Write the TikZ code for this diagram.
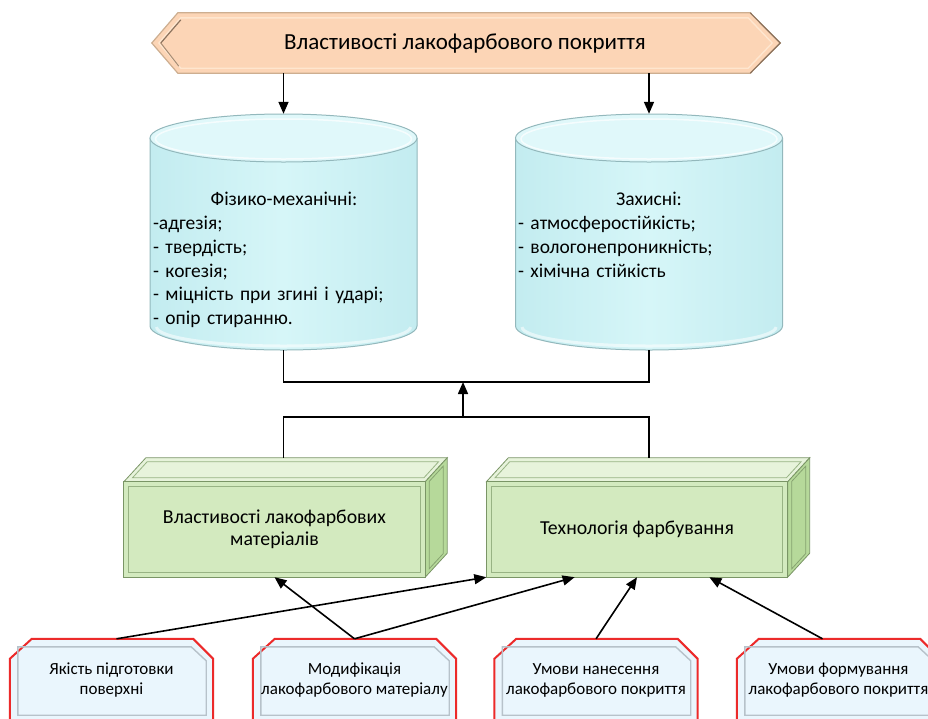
\documentclass[tikz,border=0pt]{standalone}
\usepackage{fontspec}
\setmainfont{Carlito}
\usetikzlibrary{arrows.meta,calc,backgrounds}

\definecolor{bannerFill}{HTML}{FCD5B6}
\definecolor{bannerEdge}{HTML}{CDAE90}
\definecolor{bannerDark}{HTML}{8C735E}
\definecolor{bannerLight}{HTML}{FEE6CF}
\definecolor{cylBody}{HTML}{D6F6F8}
\definecolor{cylShade}{HTML}{C3ECF0}
\definecolor{cylTop}{HTML}{E0F8FA}
\definecolor{cylEdge}{HTML}{93B8BC}
\definecolor{boxFront}{HTML}{D3EABF}
\definecolor{boxTop}{HTML}{E7F3DB}
\definecolor{boxSide}{HTML}{B6D99A}
\definecolor{boxEdge}{HTML}{7A9566}
\definecolor{boxBevel}{HTML}{98B384}
\definecolor{factorFill}{HTML}{EAF6FD}
\definecolor{factorEdge}{HTML}{EC2A2A}
\definecolor{factorBevel}{HTML}{B7C2CA}

\tikzset{
  link/.style={draw=black, line width=1.6pt},
  arrowlink/.style={link, -{Triangle[length=12pt,width=10pt]}},
  drum/.style={minimum width=267pt, minimum height=236pt, inner sep=0pt},
  drumtext/.style={anchor=north, inner sep=0pt, text width=262pt, align=left,
    font=\fontsize{19.5}{23.8}\selectfont},
  boxfront/.style={minimum width=301pt, minimum height=95pt, inner sep=0pt,
    align=center, font=\fontsize{19.8}{22.5}\selectfont},
  factor/.style={minimum width=203pt, minimum height=82pt, inner sep=0pt,
    align=center, font=\fontsize{17}{20}\selectfont},
  banner/.style={minimum width=630pt, minimum height=60pt, inner sep=0pt,
    font=\fontsize{23}{27}\selectfont},
}

\begin{document}
\begin{tikzpicture}[x=1pt,y=-1pt]
\useasboundingbox (0,0) rectangle (928,718);
\clip (0,0) rectangle (928,718);

% ---- nodes ----
\node[banner] (title) at (465,43) {Властивості лакофарбового покриття};

\node[drum] (phys) at (283.5,232) {};
\node[drum] (prot) at (649,232) {};
\node[drumtext] (physlist) at (284,192)
  {\makebox[262pt]{Фізико-механічні:}\\-адгезія;\\- твердість;\\- когезія;\\- міцність при згині і ударі;\\- опір стиранню.};
\node[drumtext] (protlist) at (649,192)
  {\makebox[262pt]{Захисні:}\\- атмосферостійкість;\\- вологонепроникність;\\- хімічна стійкість};

\node[boxfront] (mat) at (274.5,529.5) {Властивості лакофарбових\\матеріалів};
\node[boxfront] (tech) at (637,529.5) {Технологія фарбування};

\node[factor] (f1) at (111.5,680) {Якість підготовки\\поверхні};
\node[factor] (f2) at (354.5,680) {Модифікація\\лакофарбового матеріалу};
\node[factor] (f3) at (596,680) {Умови нанесення\\лакофарбового покриття};
\node[factor] (f4) at (838.5,680) {Умови формування\\лакофарбового покриття};

% ---- shapes behind the nodes ----
\begin{scope}[on background layer]
  % title banner
  \filldraw[fill=bannerFill, draw=bannerEdge, line width=1.2pt]
    ([xshift=2pt]title.west) -- ([xshift=28pt]title.north west) -- ([xshift=-30pt]title.north east)
    -- (title.east) -- ([xshift=-30pt]title.south east) -- ([xshift=28pt]title.south west) -- cycle;
  \draw[bannerLight, line width=1.4pt]
    ([xshift=9pt]title.west) -- ([shift={(31pt,-5pt)}]title.north west) -- ([shift={(-32pt,-5pt)}]title.north east)
    -- ([xshift=-8pt]title.east) -- ([shift={(-32pt,5pt)}]title.south east) -- ([shift={(31pt,5pt)}]title.south west) -- cycle;
  \draw[bannerDark, line width=1.2pt]
    ([xshift=11pt]title.west) -- ([shift={(31pt,-7pt)}]title.north west);
  \draw[bannerDark!60!bannerEdge, line width=1pt]
    ([xshift=11pt]title.west) -- ([shift={(29pt,7pt)}]title.south west);
  \draw[bannerDark, line width=1.2pt]
    ([xshift=-30pt]title.north east) -- (title.east) -- ([xshift=-30pt]title.south east);

  % cylinders
  \foreach \cx in {283.5,649} {
    \shade[left color=cylShade, right color=cylShade, middle color=cylBody]
      (\cx-133.5,138) -- (\cx-133.5,326)
      arc[start angle=180, end angle=360, x radius=133.5pt, y radius=24pt]
      -- (\cx+133.5,138) -- cycle;
    \draw[white, opacity=0.55, line width=3pt]
      (\cx-127,327) arc[start angle=180, end angle=360, x radius=127pt, y radius=19pt];
    \draw[cylEdge, line width=1pt]
      (\cx-133.5,138) -- (\cx-133.5,326)
      arc[start angle=180, end angle=360, x radius=133.5pt, y radius=24pt]
      -- (\cx+133.5,138);
    \filldraw[fill=cylTop, draw=cylEdge, line width=1pt]
      (\cx,138) ellipse[x radius=133.5pt, y radius=24pt];
    \draw[white, opacity=0.7, line width=1.5pt]
      (\cx,139) ellipse[x radius=128pt, y radius=20pt];
  }

  % three-dimensional boxes
  \foreach \nm in {mat,tech} {
    \filldraw[fill=boxTop, draw=boxEdge, line width=0.8pt]
      (\nm.north west) -- ([shift={(22pt,24pt)}]\nm.north west)
      -- ([shift={(22pt,24pt)}]\nm.north east) -- (\nm.north east) -- cycle;
    \draw[boxBevel, line width=0.8pt]
      ([shift={(8.7pt,4pt)}]\nm.north west) -- ([shift={(23.3pt,20pt)}]\nm.north west)
      -- ([shift={(13.3pt,20pt)}]\nm.north east) -- ([shift={(-1.3pt,4pt)}]\nm.north east) -- cycle;
    \filldraw[fill=boxSide, draw=boxEdge, line width=0.8pt]
      (\nm.north east) -- ([shift={(22pt,24pt)}]\nm.north east)
      -- ([shift={(22pt,24pt)}]\nm.south east) -- (\nm.south east) -- cycle;
    \draw[boxEdge!80!boxSide, line width=0.8pt]
      ([shift={(4pt,0.4pt)}]\nm.north east) -- ([shift={(18pt,15.6pt)}]\nm.north east)
      -- ([shift={(18pt,23.6pt)}]\nm.south east) -- ([shift={(4pt,8.4pt)}]\nm.south east) -- cycle;
    \filldraw[fill=boxFront, draw=boxEdge, line width=0.8pt]
      (\nm.south west) rectangle (\nm.north east);
    \draw[boxBevel, line width=1.2pt]
      ([shift={(5pt,5pt)}]\nm.south west) rectangle ([shift={(-5pt,-5pt)}]\nm.north east);
  }

  % factor boxes with cut top corners
  \foreach \nm in {f1,f2,f3,f4} {
    \filldraw[fill=factorFill, draw=factorEdge, line width=2pt]
      ([yshift=-5pt]\nm.south west) -- ([yshift=-20pt]\nm.north west) -- ([xshift=22pt]\nm.north west)
      -- ([xshift=-20pt]\nm.north east) -- ([yshift=-20pt]\nm.north east) -- ([yshift=-5pt]\nm.south east) -- cycle;
    \draw[factorBevel, line width=1.4pt]
      ([shift={(8pt,-8pt)}]\nm.north west) -- ([shift={(-22pt,-8pt)}]\nm.north east)
      -- ([shift={(-7pt,-22pt)}]\nm.north east) -- ([shift={(-7pt,6pt)}]\nm.south east)
      -- ([shift={(8pt,6pt)}]\nm.south west) -- cycle;
  }
\end{scope}

% ---- connectors ----
\coordinate (upperjoin) at (463,382);
\coordinate (lowerjoin) at (463,417);
\coordinate (matback) at ([yshift=24pt]mat.north);
\coordinate (techback) at ([yshift=24pt]tech.north);

\draw[arrowlink] (title.south -| phys.north) -- (phys.north);
\draw[arrowlink] (title.south -| prot.north) -- (prot.north);
\draw[link] (phys.south) -- (phys.south |- upperjoin) -- (prot.south |- upperjoin) -- (prot.south);
\draw[arrowlink] (lowerjoin) -- (upperjoin);
\draw[link] (phys.south |- matback) -- (phys.south |- lowerjoin) -- (prot.south |- lowerjoin) -- (prot.south |- techback);

\draw[arrowlink] ([xshift=5pt]f1.north) -- (tech.south west);
\draw[arrowlink] (f2.north) -- (mat.south);
\draw[arrowlink] (f2.north) -- ($(tech.south west)!0.293!(tech.south east)$);
\draw[arrowlink] (f3.north) -- (tech.south);
\draw[arrowlink] ([xshift=-16pt]f4.north) -- ($(tech.south west)!0.74!(tech.south east)$);
\end{tikzpicture}
\end{document}
